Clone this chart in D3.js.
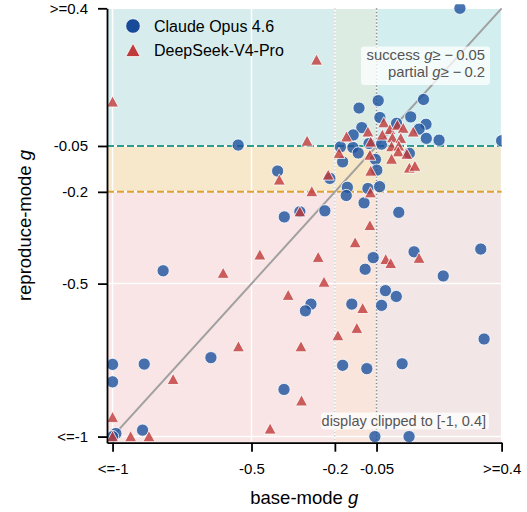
<!DOCTYPE html>
<html><head><meta charset="utf-8">
<script src="https://cdn.jsdelivr.net/npm/d3@7"></script>
<style>
body{margin:0;background:#fff;}
svg{display:block;font-family:"Liberation Sans",Arial,sans-serif;}
</style>
</head><body>
<svg id="chart" width="527" height="512"></svg>
<script>
// ---------------- data ----------------
const claudeBase = [0.25,-0.548,-0.044,-0.113,0.119,-0.038,0.073,0.128,-0.103,-0.134,0.103,0.129,0.175,0.4,-0.180,-0.135,-0.116,-0.077,-0.032,-0.172,-0.054,-0.049,-0.218,-0.155,-0.159,-0.081,-0.039,-0.095,0.030,-0.236,-0.326,-0.382,-0.406,0.068,0.022,-0.818,0.325,0.085,-0.062,-0.091,0.190,-0.018,0.021,-0.032,-0.139,-0.286,-0.306,0.337,-0.646,-0.886,-1,-1,-0.172,-0.085,0.042,-0.383,-0.892,-0.988,-1,-0.056,0.067];
const claudeRepro = [0.4,-0.047,0.098,0.074,0.102,0.043,0.045,0.021,0.010,-0.014,0.005,-0.025,-0.031,-0.033,-0.053,-0.055,-0.073,-0.042,-0.044,-0.102,-0.094,-0.129,-0.156,-0.185,-0.212,-0.189,-0.183,-0.236,-0.267,-0.262,-0.265,-0.282,-0.132,-0.074,0.024,-0.458,-0.387,-0.396,-0.415,-0.453,-0.475,-0.523,-0.542,-0.571,-0.567,-0.567,-0.589,-0.681,-0.742,-0.763,-0.764,-0.821,-0.767,-0.778,-0.762,-0.846,-0.979,-0.990,-1,-1,-1];
const deepseekBase = [-1,-0.266,-0.300,-0.400,-0.283,-0.224,-0.326,-0.185,-0.158,-0.081,-0.071,-0.074,-0.071,-0.072,-0.024,-0.002,0.025,0.046,-0.029,0.007,0.037,0.004,0.030,0.028,0.059,0.082,0.004,0.068,0.088,-0.074,-0.127,-0.470,-0.260,-0.602,-0.017,0.001,0.103,-0.239,-0.368,-0.100,-0.121,-0.189,-0.322,-0.547,-0.782,-0.320,-1,-0.433,-1,-0.935,-0.869];
const deepseekRepro = [0.094,0.231,-0.034,-0.161,-0.199,-0.145,-0.265,-0.074,-0.020,-0.004,-0.037,-0.080,-0.132,-0.203,0.026,0.004,0.018,0.008,-0.014,-0.023,-0.025,-0.052,-0.050,-0.069,-0.077,-0.004,-0.093,-0.122,-0.116,-0.310,-0.366,-0.406,-0.414,-0.466,-0.421,-0.434,-0.417,-0.495,-0.538,-0.581,-0.646,-0.670,-0.706,-0.706,-0.813,-0.883,-0.937,-0.975,-1,-1,-1];
const seriesNames = ["Claude Opus 4.6","DeepSeek-V4-Pro"];
const tickValues = [-1,-0.5,-0.2,-0.05,0.4];
const tickLabels = ["<=-1","-0.5","-0.2","-0.05",">=0.4"];
const successThr = -0.05, partialThr = -0.2;
const axisLo = -1.02, axisHi = 0.4;

// ---------------- layout ----------------
const svg = d3.select("#chart");
const L = 107, R = 501.6, T = 8.3, B = 442.7;
const x = d3.scaleLinear().domain([axisLo, axisHi]).range([L, R]);
const y = d3.scaleLinear().domain([axisLo, axisHi]).range([B, T]);
const blue = "#1b519e", red = "#c03a3a";
const teal = "#2a9d8f", orange = "#e0a030", pink = "#d9534f";

const defs = svg.append("defs");
defs.append("clipPath").attr("id","clip").append("rect")
  .attr("x", L).attr("y", T-4).attr("width", R-L).attr("height", B-T+4);

// background bands
const bands = svg.append("g");
bands.append("rect").attr("x",L).attr("width",R-L).attr("y",y(axisHi)).attr("height",y(successThr)-y(axisHi)).attr("fill","#2aa0a0").attr("opacity",0.19);
bands.append("rect").attr("x",L).attr("width",R-L).attr("y",y(successThr)).attr("height",y(partialThr)-y(successThr)).attr("fill",orange).attr("opacity",0.25);
bands.append("rect").attr("x",L).attr("width",R-L).attr("y",y(partialThr)).attr("height",y(axisLo)-y(partialThr)).attr("fill",pink).attr("opacity",0.15);
bands.append("rect").attr("y",T).attr("height",B-T).attr("x",x(successThr)).attr("width",x(axisHi)-x(successThr)).attr("fill","#8cffff").attr("opacity",0.06);
bands.append("rect").attr("y",T).attr("height",B-T).attr("x",x(partialThr)).attr("width",x(successThr)-x(partialThr)).attr("fill","#ffe6a0").attr("opacity",0.13);

// white grid
const grid = svg.append("g").attr("stroke","#fff").attr("stroke-width",1.5);
grid.selectAll(".gx").data(tickValues).join("line")
  .attr("x1",d=>x(d)).attr("x2",d=>x(d)).attr("y1",T).attr("y2",B);
grid.selectAll(".gy").data(tickValues).join("line")
  .attr("y1",d=>y(d)).attr("y2",d=>y(d)).attr("x1",L).attr("x2",R);

// threshold lines
svg.append("line").attr("x1",L).attr("x2",R).attr("y1",y(successThr)).attr("y2",y(successThr))
  .attr("stroke",teal).attr("stroke-width",2).attr("stroke-dasharray","7,3");
svg.append("line").attr("x1",L).attr("x2",R).attr("y1",y(partialThr)).attr("y2",y(partialThr))
  .attr("stroke",orange).attr("stroke-width",2).attr("stroke-dasharray","7,3");
svg.append("line").attr("x1",x(partialThr)).attr("x2",x(partialThr)).attr("y1",T).attr("y2",B)
  .attr("stroke","#c8c8c8").attr("stroke-width",1.3).attr("stroke-dasharray","1.5,2");
svg.append("line").attr("x1",x(successThr)).attr("x2",x(successThr)).attr("y1",T).attr("y2",B)
  .attr("stroke","#8a8a8a").attr("stroke-width",1.5).attr("stroke-dasharray","1.5,2");

// diagonal
svg.append("line").attr("x1",x(axisLo)).attr("y1",y(axisLo)).attr("x2",x(axisHi)).attr("y2",y(axisHi))
  .attr("stroke","#a0a0a0").attr("stroke-width",2);

// points
const pts = svg.append("g").attr("clip-path","url(#clip)");
const cData = claudeBase.map((b,i)=>({b, r: claudeRepro[i]}));
const dData = deepseekBase.map((b,i)=>({b, r: deepseekRepro[i]}));
pts.selectAll("circle").data(cData).join("circle")
  .attr("cx",d=>x(d.b)).attr("cy",d=>y(d.r)).attr("r",6.1)
  .attr("fill",blue).attr("fill-opacity",0.8).attr("stroke","#fff").attr("stroke-width",0.8);
const tri = s => `M0,${-s}L${s},${s*0.85}L${-s},${s*0.85}Z`;
pts.selectAll("path").data(dData).join("path")
  .attr("transform",d=>`translate(${x(d.b)},${y(d.r)})`).attr("d",tri(6))
  .attr("fill",red).attr("fill-opacity",0.8).attr("stroke","#fff").attr("stroke-width",0.8);

// axes
const fmt = d => tickLabels[tickValues.indexOf(d)];
const gx = svg.append("g").attr("transform",`translate(0,${B})`)
  .call(d3.axisBottom(x).tickValues(tickValues).tickFormat(fmt).tickSize(9).tickSizeOuter(0).tickPadding(12));
const gy = svg.append("g").attr("transform",`translate(${L},0)`)
  .call(d3.axisLeft(y).tickValues(tickValues).tickFormat(fmt).tickSize(9).tickSizeOuter(0).tickPadding(10));
[gx,gy].forEach(g=>{
  g.select(".domain").attr("stroke","#000").attr("stroke-width",1.8);
  g.selectAll(".tick line").attr("stroke","#000").attr("stroke-width",1.8);
  g.selectAll(".tick text").attr("fill","#000").style("font-size","15px").style("font-family","'Liberation Sans',Arial,sans-serif");
});

// axis labels
const xl = svg.append("text").attr("x",(L+R)/2).attr("y",504).attr("text-anchor","middle").style("font-size","18.5px");
xl.append("tspan").text("base-mode ");
xl.append("tspan").attr("font-style","italic").text("g");
const yl = svg.append("text").attr("transform",`translate(31,${(T+B)/2}) rotate(-90)`).attr("text-anchor","middle").style("font-size","18.5px");
yl.append("tspan").text("reproduce-mode ");
yl.append("tspan").attr("font-style","italic").text("g");

// legend
const lg = svg.append("g");
lg.append("circle").attr("cx",133).attr("cy",26).attr("r",7.3).attr("fill","#174b97").attr("stroke","#fff").attr("stroke-width",0.8);
lg.append("path").attr("transform","translate(133,50.5)").attr("d",tri(7.2)).attr("fill","#bf3b3b").attr("stroke","#fff").attr("stroke-width",0.8);
lg.append("text").attr("x",154).attr("y",31.5).style("font-size","16px").text(seriesNames[0]);
lg.append("text").attr("x",154).attr("y",56).style("font-size","16px").text(seriesNames[1]);

// annotation boxes
svg.append("rect").attr("x",361).attr("y",46.5).attr("width",129).attr("height",38.5).attr("rx",3)
  .attr("fill","#fff").attr("fill-opacity",0.75);
const a1 = svg.append("text").attr("x",485).attr("y",59.5).attr("text-anchor","end").attr("fill","#555").style("font-size","14.8px");
a1.append("tspan").text("success ");
a1.append("tspan").attr("font-style","italic").text("g");
a1.append("tspan").text("\u2265 \u2212\u20090.05");
const a2 = svg.append("text").attr("x",485).attr("y",77).attr("text-anchor","end").attr("fill","#555").style("font-size","14.8px");
a2.append("tspan").text("partial ");
a2.append("tspan").attr("font-style","italic").text("g");
a2.append("tspan").text("\u2265 \u2212\u20090.2");

svg.append("rect").attr("x",321).attr("y",412.5).attr("width",168).attr("height",17).attr("rx",3)
  .attr("fill","#fff").attr("fill-opacity",0.75);
svg.append("text").attr("x",486).attr("y",425.5).attr("text-anchor","end").attr("fill","#555").style("font-size","14.5px")
  .text("display clipped to [-1, 0.4]");
</script>
</body></html>
